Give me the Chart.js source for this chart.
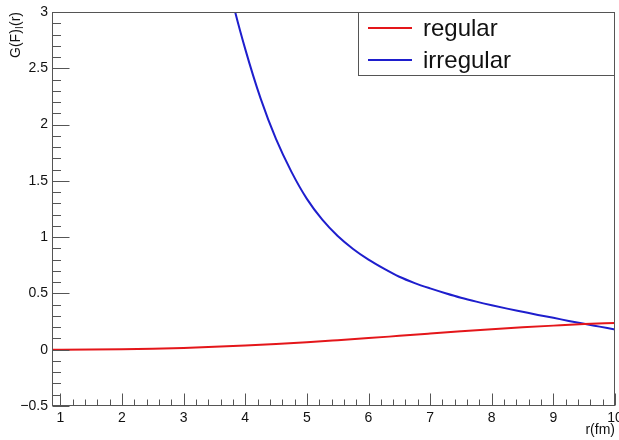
<!DOCTYPE html>
<html>
<head>
<meta charset="utf-8">
<script src="https://cdn.jsdelivr.net/npm/chart.js@4.4.1/dist/chart.umd.min.js"></script>
<style>
body { margin: 0; background: #fff; }
</style>
</head>
<body>
<canvas id="gChart" width="619" height="440"></canvas>
<script>
// axis ranges and tick labels
var xMin = 0.88, xMax = 10;
var yMin = -0.5, yMax = 3;
var xTicks = [1, 2, 3, 4, 5, 6, 7, 8, 9, 10];
var yTicks = [-0.5, 0, 0.5, 1, 1.5, 2, 2.5, 3];
var xMinorStep = 0.2, yMinorStep = 0.1;

// regular solution
var regR = [0.88, 1, 1.5, 2, 2.5, 3, 3.5, 4, 4.5, 5, 5.5, 6, 6.5, 7, 7.5, 8, 8.5, 9, 9.5, 10];
var regular = [0, 0, 0.001, 0.004, 0.009, 0.016, 0.026, 0.038, 0.051, 0.066, 0.084, 0.103, 0.123, 0.143, 0.163, 0.182, 0.199, 0.214, 0.228, 0.238];

// irregular solution
var irrR = [3.6, 3.8, 4.0, 4.25, 4.5, 4.75, 5.0, 5.25, 5.5, 5.75, 6.0, 6.25, 6.5, 6.75, 7.0, 7.25, 7.5, 7.75,
            8.0, 8.25, 8.5, 8.75, 9.0, 9.25, 9.5, 9.75, 10];
var irregular = [3.58, 3.08, 2.67, 2.23, 1.87, 1.58, 1.34, 1.155, 1.01, 0.895, 0.80, 0.72, 0.648, 0.592, 0.545, 0.502, 0.462, 0.427,
                 0.395, 0.365, 0.337, 0.309, 0.283, 0.256, 0.23, 0.205, 0.18];

var frameColor = '#555';
var textColor = '#111';
var fontFamily = '"Liberation Sans", Arial, sans-serif';

function pairs(xs, ys) {
  return xs.map(function (x, i) { return { x: x, y: ys[i] }; });
}

function fmt(v) {
  return String(v).replace('-', '\u2212');
}

// frame, inward ticks, y title and legend box
var rootFrame = {
  id: 'rootFrame',
  afterDraw: function (chart) {
    var ctx = chart.ctx, a = chart.chartArea;
    var xs = chart.scales.x, ys = chart.scales.y;
    var L = Math.round(a.left) - 0.5, R = Math.round(a.right) - 0.5;
    var T = Math.round(a.top) + 0.5, B = Math.round(a.bottom) - 0.5;
    ctx.save();
    ctx.strokeStyle = frameColor;
    ctx.lineWidth = 1;
    ctx.strokeRect(L, T, R - L, B - T);

    ctx.beginPath();
    var n = Math.round((xMax - 1) / xMinorStep);
    for (var i = 0; i <= n; i++) {
      var v = 1 + i * xMinorStep;
      var px = Math.round(xs.getPixelForValue(v)) + 0.5;
      var len = (i % 5 === 0) ? 12 : 6;
      ctx.moveTo(px, B);
      ctx.lineTo(px, B - len);
    }
    var m = Math.round((yMax - yMin) / yMinorStep);
    for (var j = 0; j <= m; j++) {
      var w = yMin + j * yMinorStep;
      var py = Math.round(ys.getPixelForValue(w)) + 0.5;
      var ylen = (j % 5 === 0) ? 17 : 8.5;
      ctx.moveTo(L, py);
      ctx.lineTo(L + ylen, py);
    }
    ctx.stroke();

    // y title with subscript l
    ctx.fillStyle = textColor;
    ctx.translate(20, 12);
    ctx.rotate(-Math.PI / 2);
    ctx.textBaseline = 'alphabetic';
    ctx.font = '14px ' + fontFamily;
    var p1 = 'G(F)', p3 = '(r)';
    var w1 = ctx.measureText(p1).width, w3 = ctx.measureText(p3).width;
    ctx.font = '10px ' + fontFamily;
    var w2 = ctx.measureText('l').width + 1;
    var x0 = -(w1 + w2 + w3);
    ctx.font = '14px ' + fontFamily;
    ctx.fillText(p1, x0, 0);
    ctx.fillText(p3, x0 + w1 + w2, 0);
    ctx.font = '10px ' + fontFamily;
    ctx.fillText('l', x0 + w1 + 0.5, 3);
    ctx.restore();

    // legend
    ctx.save();
    var bx = 358.5, by = T, bw = R - bx, bh = 63;
    ctx.fillStyle = '#fff';
    ctx.fillRect(bx, by, bw, bh);
    ctx.strokeStyle = frameColor;
    ctx.strokeRect(bx, by, bw, bh);
    ctx.font = '24px ' + fontFamily;
    ctx.textBaseline = 'middle';
    chart.data.datasets.forEach(function (ds, k) {
      var ly = by + 15.5 + k * 32;
      ctx.strokeStyle = ds.borderColor;
      ctx.lineWidth = 2;
      ctx.beginPath();
      ctx.moveTo(368, ly);
      ctx.lineTo(412, ly);
      ctx.stroke();
      ctx.fillStyle = textColor;
      ctx.fillText(ds.label, 423, ly + 1);
    });
    ctx.restore();
  }
};

Chart.defaults.font.family = fontFamily;
Chart.defaults.color = textColor;

new Chart(document.getElementById('gChart'), {
  type: 'line',
  data: {
    datasets: [{
      label: 'regular',
      data: pairs(regR, regular),
      borderColor: 'rgb(228, 22, 26)',
      borderWidth: 2,
      pointRadius: 0,
      cubicInterpolationMode: 'monotone'
    }, {
      label: 'irregular',
      data: pairs(irrR, irregular),
      borderColor: 'rgb(30, 30, 205)',
      borderWidth: 2,
      pointRadius: 0,
      cubicInterpolationMode: 'monotone'
    }]
  },
  options: {
    responsive: false,
    animation: false,
    layout: { padding: { top: 12, right: 4, left: 0, bottom: 0 } },
    plugins: { legend: { display: false }, tooltip: { enabled: false } },
    scales: {
      x: {
        type: 'linear',
        min: xMin,
        max: xMax,
        grid: { display: false, drawTicks: false },
        border: { display: false },
        afterBuildTicks: function (s) { s.ticks = xTicks.map(function (v) { return { value: v }; }); },
        ticks: { font: { size: 14 }, padding: 4, maxRotation: 0, callback: fmt },
        title: { display: true, text: 'r(fm)', align: 'end', font: { size: 14 }, padding: { top: 0, bottom: 1 } },
        afterFit: function (s) { s.height = 34; s.paddingLeft = 0; s.paddingRight = 0; }
      },
      y: {
        type: 'linear',
        min: yMin,
        max: yMax,
        grid: { display: false, drawTicks: false },
        border: { display: false },
        afterBuildTicks: function (s) { s.ticks = yTicks.map(function (v) { return { value: v }; }); },
        ticks: { font: { size: 14 }, padding: 5, callback: fmt },
        afterFit: function (s) { s.width = 53; s.paddingTop = 0; s.paddingBottom = 0; }
      }
    }
  },
  plugins: [rootFrame]
});
</script>
</body>
</html>
